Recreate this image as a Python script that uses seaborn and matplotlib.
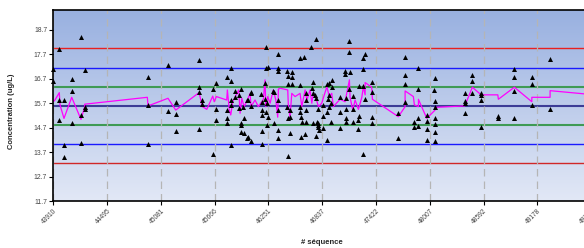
import numpy as np
import pandas as pd
import matplotlib
matplotlib.use("Agg")
import matplotlib.pyplot as plt
from matplotlib.colors import LinearSegmentedColormap
import seaborn as sns

# mesures (# séquence, concentration)
seq = [43910, 43910, 43975, 43975, 43975, 44026, 44026, 44026, 44110, 44110, 44110,
       44211, 44211, 44211, 44252, 44252, 44252,
       44941, 44941, 44941, 45158, 45158, 45242, 45242, 45242, 45496, 45496, 45496, 45496,
       45532, 45532, 45645, 45645, 45684, 45684, 45684, 45797, 45797, 45797, 45797,
       45841, 45841, 45841, 45841, 45841, 45891, 45891, 45928, 45928, 45953, 45953, 45953,
       45953, 45971, 45986, 45986, 46021, 46021,
       46222, 46359, 46595, 46642, 46243, 46225, 46359, 46359, 46450, 46505, 46468, 46505,
       46461, 46505, 46595, 46214, 46062, 46062, 46171, 46304, 46309, 46359, 46026, 46062,
       46178, 46214, 46236, 46185, 46185, 46225, 46250, 46359, 46450, 46486, 46468, 46486,
       46595, 46606, 46614, 46233, 46309, 46359, 46359, 46026, 46062, 46178, 46486, 46606,
       46468, 46181,
       46766, 47132, 46715, 47132, 47284, 47303, 47085, 47085, 47139, 47278, 46733, 46940,
       46914, 46723, 46886, 46940, 47132, 47240, 47278, 46661, 46740, 46758, 46914, 47030,
       47095, 47169, 47303, 46661, 46769, 46903, 46929, 46842, 46914, 46595, 46661, 46795,
       46886, 47030, 47095, 47169, 47240, 46842, 46661, 46733, 46777, 46795, 46932, 47095,
       47095, 47169, 47230, 46842, 47030, 47230, 46646, 46769, 46886, 47278, 46806, 46795,
       46795,
       47738, 47876, 47738, 47738, 48064, 47375, 47375, 47876, 48054, 47738, 48064, 48064,
       47665, 47375, 47974, 48064, 47883, 47974, 47375, 47836, 47836, 47883, 48064, 47974,
       48064, 47665, 47974, 48064,
       49316, 48927, 48470, 48470, 48927, 49117, 49117, 48388, 48470, 48565, 48565, 48565,
       48927, 48388, 48388, 48388, 49117, 49316, 48747, 48747, 48927, 48565]
conc = [17.08, 16.62, 17.92, 15.83, 15.02, 15.83, 13.98, 13.52, 16.70, 16.21, 14.88,
        18.39, 15.22, 14.09, 17.04, 15.56, 15.45,
        16.76, 15.64, 14.04, 17.25, 15.38, 15.74, 15.27, 14.55, 17.46, 16.37, 16.17, 14.66,
        15.83, 15.66, 16.29, 13.63, 16.54, 15.48, 15.00, 16.78, 15.42, 15.08, 14.91,
        17.13, 16.61, 14.01, 15.83, 15.63, 16.21, 15.97, 16.04, 15.49, 16.29, 14.88, 14.81,
        14.54, 15.56, 15.11, 14.47, 14.29, 15.83,
        17.97, 17.71, 17.53, 17.57, 17.19, 17.15, 17.15, 17.01, 17.01, 16.96, 16.81, 16.77,
        16.48, 16.48, 16.44, 16.54, 16.17, 16.10, 16.08, 16.21, 16.14, 15.83, 15.83, 15.59,
        15.76, 15.86, 15.72, 15.42, 15.22, 15.35, 15.15, 15.42, 15.56, 15.42, 15.08, 15.15,
        15.35, 15.15, 14.95, 14.81, 14.88, 14.61, 14.27, 14.31, 14.16, 14.04, 14.50, 14.34,
        13.56, 14.58,
        18.31, 18.24, 17.97, 17.78, 17.53, 17.70, 17.01, 16.89, 16.99, 17.08, 16.58, 16.65,
        16.54, 16.31, 16.48, 16.35, 16.27, 16.41, 16.42, 16.13, 16.13, 16.04, 16.04, 15.94,
        15.90, 15.99, 15.86, 15.83, 15.90, 15.86, 15.72, 15.63, 15.56, 15.56, 15.42, 15.45,
        15.35, 15.35, 15.45, 15.45, 15.18, 15.18, 14.95, 14.91, 14.95, 14.81, 14.95, 15.08,
        14.95, 14.95, 15.02, 14.68, 14.70, 14.66, 14.44, 14.36, 14.20, 13.62, 14.61, 14.88,
        14.74,
        17.60, 17.13, 16.85, 16.48, 16.72, 16.57, 16.17, 16.29, 16.24, 15.75, 15.79, 15.53,
        15.29, 15.15, 15.22, 15.11, 15.11, 14.99, 14.88, 14.95, 14.72, 14.77, 14.84, 14.64,
        14.51, 14.29, 14.20, 14.16,
        17.52, 17.11, 16.86, 16.62, 16.76, 16.78, 16.48, 16.10, 16.10, 16.10, 16.03, 15.83,
        16.20, 15.80, 15.70, 15.29, 15.63, 15.45, 15.18, 15.10, 15.08, 14.72]

# courbe magenta
line_seq = [43910, 43928, 43975, 43983, 44026, 44110, 44165, 44211, 44252, 44252,
            44933, 44941, 45158, 45242, 45496, 45532, 45580, 45645, 45661, 45684, 45797,
            45804, 45825, 45841, 45862, 45928, 45942, 45961, 45986, 46021,
            46051, 46062, 46105, 46141, 46196, 46214, 46222, 46243, 46269, 46304, 46331,
            46352, 46359, 46377, 46461, 46468, 46486, 46505, 46541, 46595,
            46614, 46650, 46669, 46704, 46723, 46740, 46769, 46795, 46831, 46886, 46914,
            46940, 46957, 47030, 47085, 47132, 47139, 47169, 47194, 47230, 47267, 47284,
            47303, 47303, 47375, 47382, 47665, 47738, 47738, 47828, 47839, 47883, 47883,
            47974, 48064, 48064, 48388, 48470, 48565, 48747, 48753, 48927, 49117, 49117,
            49316, 49316, 49861]
line_conc = [15.76, 15.83, 16.13, 15.63, 15.08, 15.94, 15.45, 15.04, 15.56, 15.66,
             15.94, 15.59, 15.90, 15.42, 16.13, 15.56, 15.45, 15.99, 15.76, 15.97, 15.83,
             16.24, 15.42, 15.22, 15.76, 16.24, 15.29, 15.90, 15.56, 15.83,
             16.10, 15.56, 15.83, 15.56, 15.86, 16.65, 15.56, 15.97, 15.70, 16.24, 15.83,
             15.13, 16.27, 16.31, 16.24, 15.56, 15.15, 16.10, 15.97, 16.10,
             15.56, 16.24, 15.83, 16.24, 15.70, 16.13, 15.90, 15.56, 15.70, 16.37, 15.97,
             16.10, 15.56, 15.86, 15.76, 16.65, 15.94, 15.42, 15.83, 15.45, 15.94, 16.37,
             16.04, 16.54, 16.35, 15.86, 15.15, 15.56, 16.20, 15.97, 15.63, 15.56, 15.86,
             15.08, 15.42, 15.53, 15.59, 16.35, 16.04, 16.04, 15.86, 16.35, 15.76, 15.94,
             15.94, 16.21, 16.02]

# limites de contrôle (moyenne, +/-1, 2, 3 écarts-types)
limits = [17.93, 17.15, 16.37, 15.59, 14.81, 14.03, 13.25]
limit_colors = ["#e82020", "#1a1aff", "#3f9a55", "#3c3c96", "#3f9a55", "#1a1aff", "#d02828"]
limit_widths = [1.0, 1.0, 1.5, 1.5, 1.5, 1.0, 1.0]

xticks = [43910, 44495, 45081, 45666, 46251, 46837, 47422, 48007, 48592, 49178, 49763]
yticks = [11.7, 12.7, 13.7, 14.7, 15.7, 16.7, 17.7, 18.7]

df = pd.DataFrame({"seq": seq, "conc": conc})
df_line = pd.DataFrame({"seq": line_seq, "conc": line_conc})

sns.set_theme(style="white")
plt.rcParams['font.family'] = ['Liberation Sans', 'DejaVu Sans']

fig = plt.figure(figsize=(5.84, 2.48), dpi=100)
ax = fig.add_axes([0.0913, 0.188, 0.921, 0.772])

# fond dégradé
grad = np.linspace(0, 1, 256).reshape(-1, 1)
cmap = LinearSegmentedColormap.from_list("bg", ["#e2e8f6", "#98b0e0"])
ax.imshow(grad, aspect="auto", cmap=cmap, extent=[0, 1, 0, 1], origin="lower",
          transform=ax.transAxes, zorder=0)

for val, c, lw in zip(limits, limit_colors, limit_widths):
    ax.axhline(val, color=c, linewidth=lw, zorder=2)

sns.lineplot(data=df_line, x="seq", y="conc", estimator=None, sort=False,
             color="#ff00ff", linewidth=0.9, ax=ax, zorder=3)
sns.scatterplot(data=df, x="seq", y="conc", marker="^", color="black", s=13,
                linewidth=0, ax=ax, zorder=5, clip_on=False)

ax.set_xlim(43910, 49763)
ax.set_ylim(11.7, 19.5)
ax.set_xticks(xticks)
ax.set_xticklabels([str(t) for t in xticks], rotation=45, ha="right",
                   rotation_mode="anchor", fontsize=4.8, color="#444444")
ax.set_yticks(yticks)
ax.set_yticklabels([f"{t:.1f}" for t in yticks], fontsize=4.9, color="#444444")
ax.tick_params(axis="both", which="major", length=3, width=0.8, color="black",
               bottom=True, left=True, pad=1.5)

ax.xaxis.grid(True, color="#b5b5b5", linestyle=(0, (6, 4)), linewidth=0.9)
ax.yaxis.grid(False)
ax.set_axisbelow(False)
for line in ax.get_xgridlines():
    line.set_zorder(1)

for side in ["left", "bottom", "top", "right"]:
    ax.spines[side].set_color("black")
    ax.spines[side].set_linewidth(1.2)
    ax.spines[side].set_zorder(4)

ax.set_xlabel("# séquence", fontsize=5.5, fontweight="bold")
ax.set_ylabel("Concentration (ug/L)", fontsize=5.5, fontweight="bold")
ax.xaxis.set_label_coords(0.5, -0.195)
ax.yaxis.set_label_coords(-0.071, 0.472)

fig.savefig("out.png", dpi=100)
